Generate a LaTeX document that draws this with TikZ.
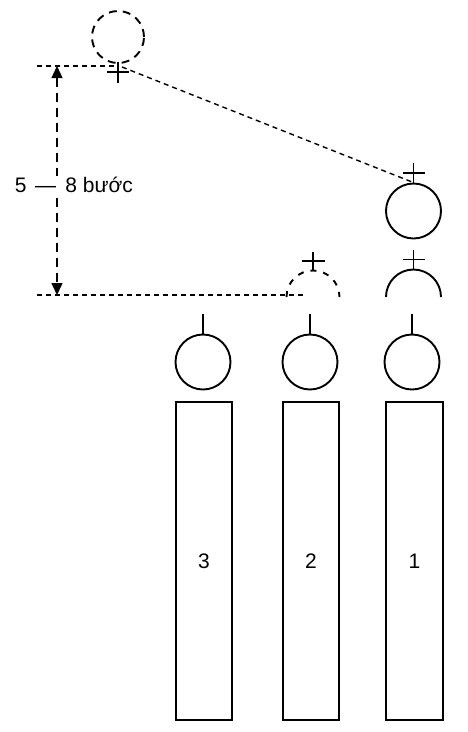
\documentclass[tikz,border=0pt]{standalone}
\usepackage{fontspec}
\setmainfont{Liberation Sans}
\usetikzlibrary{arrows.meta}
\begin{document}
\begin{tikzpicture}[x=1pt,y=-1pt,line width=1.9pt,
  head/.style={circle,draw,minimum size=55pt,inner sep=0pt},
  body/.style={draw,minimum width=56pt,minimum height=318pt,inner sep=0pt,anchor=north west},
  guide/.style={line width=1.4pt,dash pattern=on 5pt off 4pt},
  lbl/.style={font=\fontsize{21}{24}\selectfont}]
\useasboundingbox (0,0) rectangle (468,732);
% top moving person (dashed)
\node[head,minimum size=52pt,dash pattern=on 8pt off 6pt] (t) at (118,37) {};
\coordinate (tc) at (118,66);
\draw (118,62) -- (118,83);
\draw (107,72) -- (129,72);
% right moving person
\node[head] (r1) at (413.5,211) {};
\draw (r1.north) -- ++(0,-20);
\draw (403,173) -- (425,173);
% arc person 1
\draw (386,297) arc[start angle=180,end angle=0,radius=27.5pt];
\draw (413.5,269.5) -- ++(0,-19.5);
\draw (403,259.5) -- (425,259.5);
% dashed arc person 2
\draw[dash pattern=on 6pt off 7pt] (286.5,297) arc[start angle=180,end angle=0,radius=26.5pt];
\draw (313,270) -- ++(0,-18);
\draw (302,261) -- (325,261);
% guides
\coordinate (g1) at (37,66);
\coordinate (g2) at (37,295);
\coordinate (g3) at (304,295);
\coordinate (a1) at (57,66);
\coordinate (a2) at (57,295);
\draw[guide] (g1) -- (tc);
\draw[guide] (122,67) -- (r1.north);
\draw[guide] (g2) -- (g3);
\draw[line width=1.4pt,dash pattern=on 9pt off 6pt,{Triangle[width=11pt,length=12pt]}-{Triangle[width=11pt,length=12pt]}] (a1) -- (a2);
\node[lbl,fill=white,inner sep=1pt] (lab) at (74,185) {5\hspace{0.4em}—\hspace{0.45em}8 bước};
% standing people
\foreach \n/\x in {3/203,2/310,1/412}{
  \node[head] (h\n) at (\x,362) {};
  \draw (h\n.north) -- ++(0,-19.5);
}
\node[body] (b3) at (175,401) {};
\node[body] (b2) at (282,401) {};
\node[body,minimum width=57pt] (b1) at (385,401) {};
\node[lbl] at (b3.center) {3};
\node[lbl] at (b2.center) {2};
\node[lbl] at (b1.center) {1};
\end{tikzpicture}
\end{document}
